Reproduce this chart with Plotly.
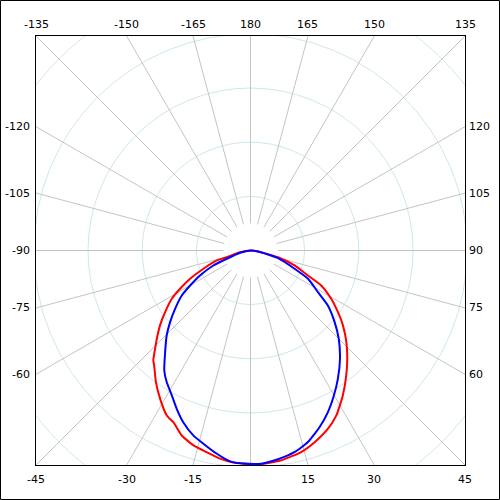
import numpy as np
import plotly.graph_objects as go

# pattern readings: angle (deg, 0 = down, + to the right) and normalised magnitude
red_theta = [-90, -80.8, -74.3, -73.5, -68.8, -64.9, -61.5, -58.5, -54.2, -50.4, -46.7,
             -42.6, -41.5, -40.0, -35.7, -31.4, -26.9, -24.2, -20.4, -16.3, -12.3, -8.3,
             -4.6, 0, 2.9, 8.3, 14.1, 18.5, 23.5, 27.5, 32.5, 37.5, 41.8, 46.3, 51.0,
             54.8, 59.1, 63.7, 66.5, 71.3, 76.3, 82.4, 90]
red_r = [0, 0.049, 0.114, 0.162, 0.233, 0.308, 0.370, 0.426, 0.486, 0.542, 0.594,
         0.658, 0.677, 0.692, 0.748, 0.801, 0.854, 0.869, 0.911, 0.937, 0.952, 0.971,
         0.982, 0.986, 0.987, 0.979, 0.959, 0.933, 0.897, 0.858, 0.793, 0.726, 0.670,
         0.612, 0.549, 0.494, 0.434, 0.364, 0.289, 0.215, 0.131, 0.035, 0]

blue_theta = [-90, -77.6, -70.8, -68.0, -63.7, -59.9, -56.8, -52.3, -48.3, -44.6, -39.2,
              -35.7, -32.5, -28.5, -25.0, -21.4, -17.2, -13.7, -9.4, -5.5, -1.9, 2.9,
              7.5, 12.4, 16.7, 21.4, 25.6, 29.9, 34.3, 39.6, 45.0, 49.6, 54.6, 58.3,
              63.8, 67.5, 74.4, 82.0, 90]
blue_r = [0, 0.049, 0.116, 0.185, 0.260, 0.322, 0.379, 0.440, 0.497, 0.551, 0.625,
          0.682, 0.720, 0.761, 0.806, 0.851, 0.893, 0.918, 0.951, 0.978, 0.984, 0.985,
          0.972, 0.952, 0.923, 0.875, 0.827, 0.772, 0.716, 0.648, 0.576, 0.510, 0.438,
          0.366, 0.296, 0.220, 0.132, 0.036, 0]

# angle labels around the frame (0 is not labelled in the original)
top_labels = [-135, -150, -165, 180, 165, 150, 135]
left_labels = [-120, -105, -90, -75, -60]
right_labels = [120, 105, 90, 75, 60]
bottom_labels = [-45, -30, -15, 15, 30, 45]

spoke_angles = list(range(-165, 181, 15))
ring_values = [0.25, 0.5, 0.75, 1.0, 1.25, 1.5]

HALF = 0.99  # half width of the visible square window


def to_xy(theta, r):
    t = np.radians(np.asarray(theta, dtype=float))
    r = np.asarray(r, dtype=float)
    return r * np.sin(t), -r * np.cos(t)


def to_paper(v):
    # data value inside the square window -> paper fraction
    return float(np.clip((v + HALF) / (2 * HALF), 0, 1))


fig = go.Figure()

shapes = []
for rv in ring_values:
    shapes.append(dict(type="circle", xref="x", yref="y", x0=-rv, y0=-rv, x1=rv, y1=rv,
                       line=dict(color="#cfe7ee", width=1), layer="below"))
for a in spoke_angles:
    (x0, x1), (y0, y1) = to_xy([a, a], [0.125, 1.6])
    shapes.append(dict(type="line", xref="x", yref="y", x0=x0, y0=y0, x1=x1, y1=y1,
                       line=dict(color="#c4c4c4", width=1), layer="below"))

# outer border of the whole picture
shapes.append(dict(type="rect", xref="paper", yref="paper",
                   x0=-35.5 / 429, x1=(429 + 34.5) / 429,
                   y0=-34.5 / 429, y1=1 + 35.5 / 429,
                   line=dict(color="black", width=1)))

xr, yr = to_xy(red_theta, red_r)
fig.add_trace(go.Scatter(x=xr, y=yr, mode="lines",
                         line=dict(color="#ff0000", width=2, shape="spline", smoothing=0.5),
                         hoverinfo="skip"))
xb, yb = to_xy(blue_theta, blue_r)
fig.add_trace(go.Scatter(x=xb, y=yb, mode="lines",
                         line=dict(color="#0000ff", width=2, shape="spline", smoothing=0.5),
                         hoverinfo="skip"))

annotations = []
lbl_font = dict(size=11, color="black")
for a in top_labels:
    annotations.append(dict(x=to_paper(-HALF * np.tan(np.radians(a))), y=1, text=str(a),
                            xanchor="center", yanchor="bottom", yshift=3))
for a in bottom_labels:
    annotations.append(dict(x=to_paper(HALF * np.tan(np.radians(a))), y=0, text=str(a),
                            xanchor="center", yanchor="top", yshift=-6))
for a in left_labels:
    annotations.append(dict(x=0, y=to_paper(HALF / np.tan(np.radians(a))), text=str(a),
                            xanchor="right", yanchor="middle", xshift=-4))
for a in right_labels:
    annotations.append(dict(x=1, y=to_paper(-HALF / np.tan(np.radians(a))), text=str(a),
                            xanchor="left", yanchor="middle", xshift=2))
for ann in annotations:
    ann.update(xref="paper", yref="paper", showarrow=False, font=lbl_font)

axis_style = dict(range=[-HALF, HALF], showgrid=False, zeroline=False, showticklabels=False,
                  ticks="", showline=True, mirror=True, linecolor="black", linewidth=1,
                  fixedrange=True)

fig.update_layout(
    width=500, height=500,
    margin=dict(l=36, r=35, t=36, b=35),
    paper_bgcolor="white", plot_bgcolor="white",
    showlegend=False,
    font=dict(family="DejaVu Sans", size=11, color="black"),
    xaxis=axis_style,
    yaxis=dict(axis_style, scaleanchor="x", scaleratio=1),
    shapes=shapes,
    annotations=annotations,
)

fig.write_html("out.html", config={"displayModeBar": False},
               post_script="document.body.style.margin='0';document.body.style.overflow='hidden';")
